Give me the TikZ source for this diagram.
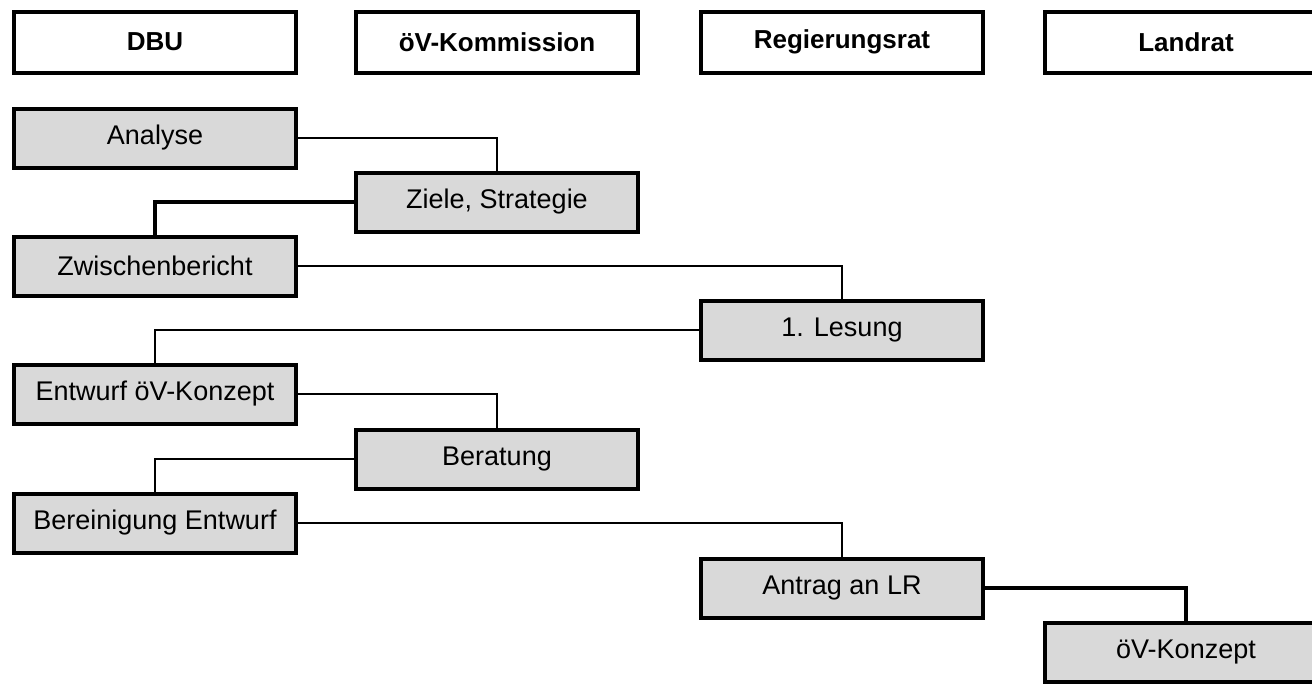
\documentclass[tikz,border=0pt]{standalone}
\usepackage{fontspec}
\setmainfont{Liberation Sans}

\begin{document}
\begin{tikzpicture}[x=1pt, y=-1pt,
      kopf/.style={draw, line width=4pt, minimum width=282pt, minimum height=61pt,
        font=\bfseries\fontsize{26}{30}\selectfont},
      schritt/.style={draw, fill=gray!30, line width=4pt, minimum width=282pt,
        minimum height=59pt, font=\fontsize{27}{31}\selectfont},
      linie/.style={line width=2.5pt},
      duenn/.style={line width=2pt}]
    \clip (0,0) rectangle (1312,683);
    % Spaltenkoepfe
    \node[kopf] (dbu) at (155,42) {DBU};
    \node[kopf] (kom) at (497,42) {öV-Kommission};
    \node[kopf] (rr) at (842,42) {Regierungsrat};
    \node[kopf] (lr) at (1186,42) {Landrat};
    % Ablauf
    \node[schritt] (analyse) at (155,138) {Analyse};
    \node[schritt] (ziele) at (497,202) {Ziele, Strategie};
    \node[schritt] (zwischen) at (155,266) {Zwischenbericht};
    \node[schritt] (lesung) at (842,330) {1. Lesung};
    \node[schritt] (entwurf) at (155,394) {Entwurf öV-Konzept};
    \node[schritt] (beratung) at (497,459) {Beratung};
    \node[schritt] (bereinigung) at (155,523) {Bereinigung Entwurf};
    \node[schritt] (antrag) at (842,588) {Antrag an LR};
    \node[schritt] (konzept) at (1186,652) {öV-Konzept};
    % Verbindungen
    \draw[linie] (analyse.east) -| (ziele.north);
    \draw[line width=3.5pt] (ziele.west) -| (zwischen.north);
    \draw[duenn] (zwischen.east) -| (lesung.north);
    \draw[duenn] (lesung.west) -| (entwurf.north);
    \draw[linie] (entwurf.east) -| (beratung.north);
    \draw[linie] (beratung.west) -| (bereinigung.north);
    \draw[duenn] (bereinigung.east) -| (antrag.north);
    \draw[line width=3.5pt] (antrag.east) -| (konzept.north);
\end{tikzpicture}
\end{document}
